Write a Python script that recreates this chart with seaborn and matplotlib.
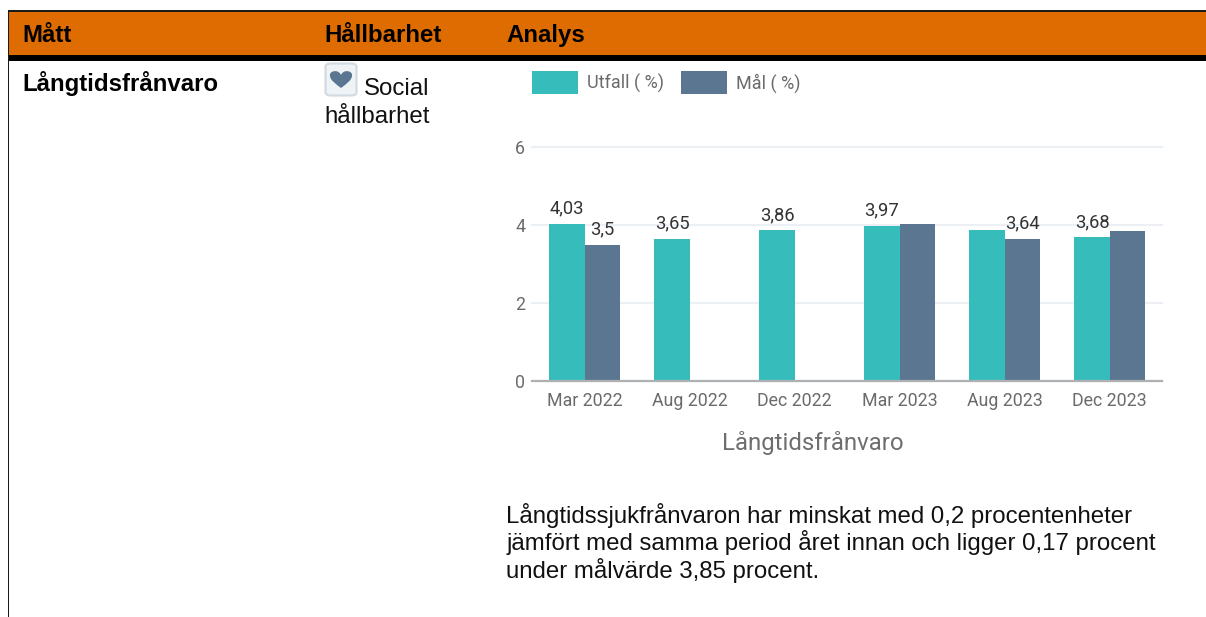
import matplotlib
matplotlib.use("Agg")
import matplotlib.pyplot as plt
from matplotlib.patches import Rectangle, FancyBboxPatch, PathPatch
from matplotlib.path import Path
import numpy as np
import pandas as pd
import seaborn as sns

# ---- data ----
periods = ["Mar 2022", "Aug 2022", "Dec 2022", "Mar 2023", "Aug 2023", "Dec 2023"]
utfall = [4.03, 3.65, 3.86, 3.97, 3.87, 3.68]
mal = [3.5, np.nan, np.nan, 4.03, 3.64, 3.85]
utfall_labels = ["4,03", "3,65", "3,86", "3,97", "", "3,68"]
mal_labels = ["3,5", "", "", "", "3,64", ""]
series_names = ["Utfall ( %)", "Mål ( %)"]
y_ticks = [0, 2, 4, 6]
chart_title = "Långtidsfrånvaro"
headers = ["Mått", "Hållbarhet", "Analys"]
analysis_lines = [
    "Långtidssjukfrånvaron har minskat med 0,2 procentenheter",
    "jämfört med samma period året innan och ligger 0,17 procent",
    "under målvärde 3,85 procent.",
]

TEAL = "#36bdbb"
SLATE = "#5b7690"
W, H = 1206, 617

sns.set_theme(style="white")
plt.rcParams["font.family"] = ["Roboto", "DejaVu Sans"]

fig = plt.figure(figsize=(W / 100, H / 100), dpi=100, facecolor="white")


def fx(px):
    return px / W


def fy(py):
    return 1 - py / H


def frect(x0, y0, x1, y1, color, z=1):
    fig.add_artist(Rectangle((fx(x0), fy(y1)), (x1 - x0) / W, (y1 - y0) / H,
                             transform=fig.transFigure, facecolor=color,
                             edgecolor="none", zorder=z))


# ---- table frame ----
frect(8, 10, 1206, 55.5, "#df6c00")
frect(8, 10, 1206, 11.5, "#1a1a1a", 2)
frect(8, 55, 1206, 60.5, "#000000", 2)
frect(8, 10, 9, 617, "#1a1a1a", 2)

ARIAL = ["Liberation Sans", "DejaVu Sans"]
TXT = 17.3
for label, px in zip(headers, [22.5, 324.5, 506]):
    fig.text(fx(px), fy(32.8), label, family=ARIAL, fontsize=TXT, fontweight="bold",
             color="black", ha="left", va="center_baseline")
fig.text(fx(22.5), fy(81.2), chart_title, family=ARIAL, fontsize=TXT, fontweight="bold",
         color="black", ha="left", va="center_baseline")
fig.text(fx(364), fy(86.5), "Social", family=ARIAL, fontsize=TXT, color="#111111",
         ha="left", va="center_baseline")
fig.text(fx(324.5), fy(114.5), "hållbarhet", family=ARIAL, fontsize=TXT, color="#111111",
         ha="left", va="center_baseline")
for i, line in enumerate(analysis_lines):
    fig.text(fx(506.5), fy(512.8 + i * 27.4), line, family=ARIAL, fontsize=TXT,
             color="#111111", ha="left", va="center_baseline")

# heart icon
fig.add_artist(FancyBboxPatch((fx(325.5), fy(95.5)), 31 / W, 32 / H,
                              boxstyle="round,pad=0,rounding_size=0.005",
                              transform=fig.transFigure, facecolor="#eff3f6",
                              edgecolor="#d3dbe2", linewidth=1.6, zorder=3))
cx, top, bot, hw = 341, 71, 88, 11
heart_px = [
    (cx, top + 4),
    (cx - 2, top - 1), (cx - 9, top - 1), (cx - hw, top + 3),
    (cx - hw - 1, top + 9), (cx - 5, bot - 4), (cx, bot),
    (cx + 5, bot - 4), (cx + hw + 1, top + 9), (cx + hw, top + 3),
    (cx + 9, top - 1), (cx + 2, top - 1), (cx, top + 4),
]
heart_codes = [Path.MOVETO] + [Path.CURVE4] * 12
fig.add_artist(PathPatch(Path([(fx(a), fy(b)) for a, b in heart_px], heart_codes),
                         transform=fig.transFigure, facecolor=SLATE,
                         edgecolor="none", zorder=4))

# ---- chart ----
ax = fig.add_axes([fx(532), fy(381), 630 / W, 234 / H])
df = pd.DataFrame({
    "period": periods * 2,
    "value": utfall + mal,
    "series": [series_names[0]] * len(periods) + [series_names[1]] * len(periods),
})
sns.barplot(data=df, x="period", y="value", hue="series", order=periods,
            hue_order=series_names, palette=[TEAL, SLATE], width=0.667, gap=0,
            saturation=1, errorbar=None, ax=ax, zorder=3, linewidth=0)

ax.set_xlim(-0.5, 5.5)
ax.set_ylim(0, 6)
ax.set_yticks(y_ticks)
ax.yaxis.grid(True, color="#ecf0f4", linewidth=1.6, zorder=0, clip_on=False)
ax.set_axisbelow(True)
for s in ["top", "right", "left"]:
    ax.spines[s].set_visible(False)
ax.spines["bottom"].set_color("#aeb0b3")
ax.spines["bottom"].set_linewidth(1.6)
ax.spines["bottom"].set_zorder(5)
ax.tick_params(axis="x", length=0, pad=18, labelsize=12.8, labelcolor="#6b6b6b")
ax.tick_params(axis="y", length=0, pad=5, labelsize=12.8, labelcolor="#6b6b6b")
for t in ax.get_xticklabels():
    t.set_verticalalignment("baseline")
ax.set_ylabel("")
ax.set_xlabel(chart_title, fontsize=17.3, color="#6e6e6e", labelpad=15.3, x=0.446)

handles, names = ax.get_legend_handles_labels()

# value labels, placed from the drawn bars
for container, labels in zip(ax.containers, [utfall_labels, mal_labels]):
    for bar in container.patches:
        if bar is None:
            continue
        center = bar.get_x() + bar.get_width() / 2
        label = labels[int(round(center))]
        if not label:
            continue
        ax.annotate(label, (center, bar.get_height()),
                    xytext=(0, 4.6), textcoords="offset points", ha="center", va="bottom",
                    fontsize=13.2, color="#333333", zorder=6, annotation_clip=False)

leg = ax.legend(handles, names, loc="upper left",
                bbox_to_anchor=(fx(532), fy(71)), bbox_transform=fig.transFigure,
                ncol=2, frameon=False, fontsize=13, labelcolor="#6b6b6b",
                borderpad=0, borderaxespad=0, handlelength=2.55, handleheight=1.6,
                handletextpad=0.5, columnspacing=0.94)

fig.savefig("out.png", dpi=100, facecolor="white")
